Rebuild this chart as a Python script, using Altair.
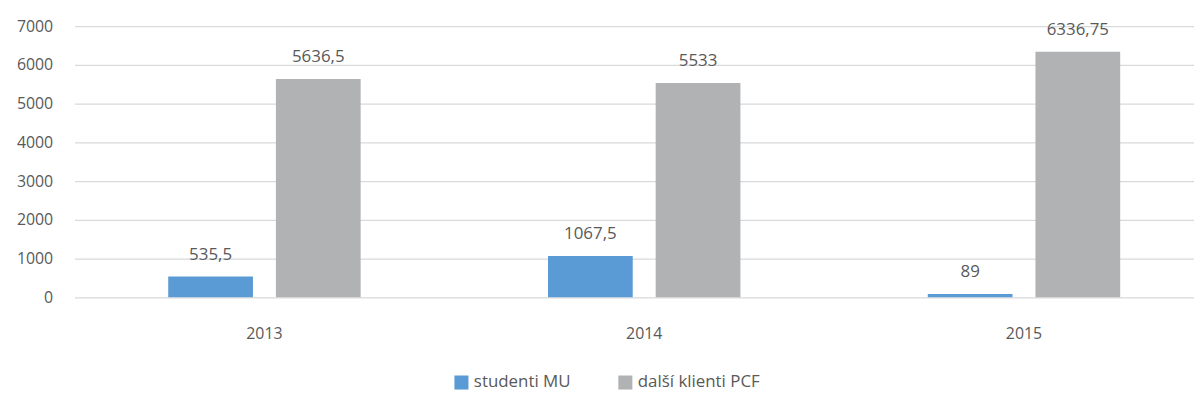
import altair as alt
import pandas as pd

years = ["2013", "2014", "2015"]
series = ["studenti MU", "další klienti PCF"]
studenti = [535.5, 1067.5, 89]
dalsi = [5636.5, 5533, 6336.75]
lab_studenti = ["535,5", "1067,5", "89"]
lab_dalsi = ["5636,5", "5533", "6336,75"]

rows = []
for i, y in enumerate(years):
    rows.append({"year": y, "series": series[0], "value": studenti[i], "label": lab_studenti[i]})
    rows.append({"year": y, "series": series[1], "value": dalsi[i], "label": lab_dalsi[i]})
df = pd.DataFrame(rows)

FONT = "Open Sans"
TXT = "#595959"

x = alt.X("year:N", title=None, sort=years,
          scale=alt.Scale(paddingInner=0, paddingOuter=0, range=[0, 1147]),
          axis=alt.Axis(labelAngle=0, labelFontSize=16, labelColor=TXT, labelFont=FONT,
                        ticks=False, domain=False, grid=False, labelPadding=28))
xo = alt.XOffset("series:N", sort=series,
                 scale=alt.Scale(paddingInner=0.213, paddingOuter=0.87))
y = alt.Y("value:Q", title=None,
          scale=alt.Scale(domain=[0, 7000]),
          axis=alt.Axis(values=[0, 1000, 2000, 3000, 4000, 5000, 6000, 7000], format="d",
                        labelFontSize=16, labelColor=TXT, labelFont=FONT,
                        ticks=False, domain=False, gridColor="#D9D9D9", gridWidth=1.3,
                        labelPadding=22))

color = alt.Color("series:N", sort=series, title=None,
                  scale=alt.Scale(domain=series, range=["#5B9BD5", "#B1B2B4"]),
                  legend=alt.Legend(orient="none", legendX=381, legendY=350,
                                    direction="horizontal", symbolType="square",
                                    symbolSize=200, symbolStrokeWidth=0,
                                    labelFontSize=17, labelColor=TXT, labelFont=FONT,
                                    columnPadding=46, labelOffset=4))

bars = alt.Chart(df).mark_bar().encode(x=x, xOffset=xo, y=y, color=color)
text = alt.Chart(df).mark_text(baseline="bottom", dy=-13, fontSize=17, color=TXT, font=FONT).encode(
    x=x, xOffset=xo, y=y, text="label:N")

chart = (bars + text).properties(
    width=1127, height=273,
    background="white",
    autosize=alt.AutoSizeParams(type="none"),
    padding={"left": 67, "top": 17, "right": 0, "bottom": 95},
).configure_view(stroke=None)

chart.save("out.html", embed_options={"renderer": "svg", "actions": False})
